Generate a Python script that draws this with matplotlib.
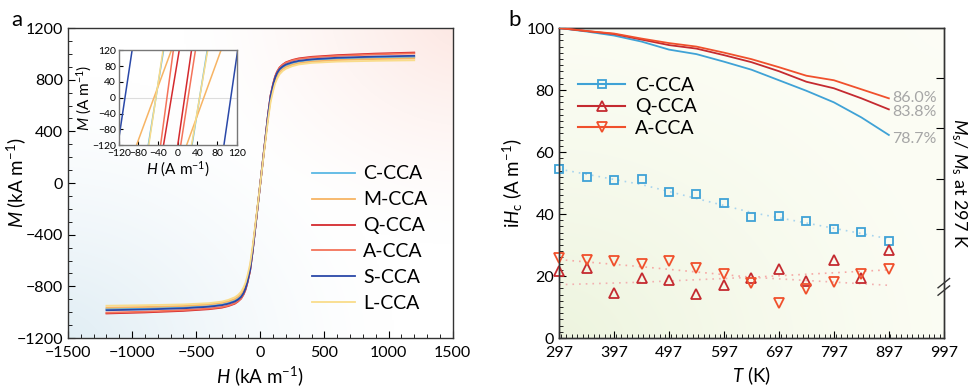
import numpy as np
import matplotlib
matplotlib.use("Agg")
import matplotlib.pyplot as plt
from matplotlib.lines import Line2D
from matplotlib.ticker import MultipleLocator

plt.rcParams['font.family'] = ['Lato', 'DejaVu Sans']
plt.rcParams['mathtext.fontset'] = 'custom'
plt.rcParams['mathtext.rm'] = 'Lato'
plt.rcParams['mathtext.it'] = 'Lato:italic'
plt.rcParams['axes.linewidth'] = 1.0
plt.rcParams['axes.edgecolor'] = '#333333'

# ---- panel a: M-H curves (upper half, mirrored for H < 0) ----
samples = ['C-CCA', 'M-CCA', 'Q-CCA', 'A-CCA', 'S-CCA', 'L-CCA']
colors_a = ['#5ab8e4', '#f7b464', '#d42a2e', '#f4735a', '#2a48a8', '#f9dc8a']
H_kA = [0, 30, 60, 80, 100, 115, 130, 150, 175, 200, 250, 300, 400, 600, 900, 1200]
M_C = [0, 262, 520, 665, 752, 805, 840, 872, 895, 910, 928, 940, 952, 962, 970, 975]
M_M = [0, 255, 505, 648, 735, 788, 824, 858, 882, 898, 916, 928, 940, 952, 960, 965]
M_Q = [0, 265, 530, 680, 770, 825, 862, 895, 918, 935, 953, 965, 977, 990, 1002, 1010]
M_A = [0, 265, 528, 678, 767, 822, 858, 892, 915, 931, 949, 960, 972, 984, 996, 1004]
M_S = [0, 265, 528, 675, 763, 816, 851, 882, 903, 918, 935, 946, 958, 970, 979, 985]
M_L = [0, 248, 490, 628, 715, 770, 806, 842, 868, 885, 905, 918, 930, 940, 946, 950]
M_all = [M_C, M_M, M_Q, M_A, M_S, M_L]

# inset: H (A/m) where each branch hits M = -120 and M = +120
inset_left = {'C-CCA': (-60, -29), 'M-CCA': (-84, -13), 'Q-CCA': (-29, 3),
              'A-CCA': (-35, -9), 'S-CCA': (-122, -93), 'L-CCA': (-59, -30)}
inset_right = {'C-CCA': (29, 60), 'M-CCA': (18, 88), 'Q-CCA': (0, 28),
               'A-CCA': (6, 36), 'S-CCA': (94, 122), 'L-CCA': (28, 61)}

# ---- panel b ----
T = [297, 347, 397, 447, 497, 547, 597, 647, 697, 747, 797, 847, 897]
ratio_C = [100, 99.3, 98.5, 97.3, 95.7, 94.8, 93.3, 91.7, 89.6, 87.5, 85.2, 82.2, 78.7]
ratio_Q = [100, 99.4, 98.8, 97.7, 96.6, 95.9, 94.6, 93.2, 91.4, 89.3, 88.0, 86.0, 83.8]
ratio_A = [100, 99.4, 98.9, 97.9, 97.0, 96.3, 95.1, 93.8, 92.2, 90.5, 89.6, 87.8, 86.0]
iHc_C = [54.5, 52.1, 51.0, 51.4, 47.1, 46.4, 43.4, 39.1, 39.4, 37.9, 35.1, 34.3, 31.3]
iHc_Q = [21.6, 22.6, 14.6, 19.2, 18.7, 14.1, 17.0, 19.2, 22.1, 18.4, 25.1, 19.2, 28.3]
iHc_A = [25.7, 25.3, 24.7, 23.9, 24.8, 22.6, 20.8, 17.9, 11.2, 15.7, 18.2, 20.8, 22.3]
trend_T = [297, 447, 647, 897]
trend_C = [54.5, 49.5, 40.5, 32.0]
trend_A = [25.3, 23.0, 19.6, 22.0]
trend_Q = [17.2, 18.0, 19.6, 17.0]
colors_b = {'C': '#3fa2d6', 'Q': '#c42a30', 'A': '#f0502c'}


def gradient(ax, c0, c1, p1, c2, p2, r1, r2):
    n = 200
    x, y = np.meshgrid(np.linspace(0, 1, n), np.linspace(0, 1, n))
    w1 = np.clip(1 - np.hypot(x - p1[0], y - p1[1]) / r1, 0, 1) ** 1.4
    w2 = np.clip(1 - np.hypot(x - p2[0], y - p2[1]) / r2, 0, 1) ** 1.4
    img = (np.array(c0)[None, None, :] * (1 - w1 - w2)[..., None]
           + np.array(c1)[None, None, :] * w1[..., None]
           + np.array(c2)[None, None, :] * w2[..., None])
    ax.imshow(img, extent=(0, 1, 0, 1), transform=ax.transAxes, origin='lower',
              aspect='auto', zorder=0, interpolation='bilinear')


fig = plt.figure(figsize=(9.74, 3.87), dpi=100)
ax1 = fig.add_axes([0.0698, 0.1266, 0.395, 0.801])
ax2 = fig.add_axes([0.574, 0.1266, 0.395, 0.801])

# ---------- panel a ----------
gradient(ax1, (1, 1, 1), (0.99, 0.90, 0.88), (1.05, 1.05), (0.87, 0.925, 0.955), (-0.05, -0.05), 0.75, 0.9)
H = np.array(H_kA)
for name, col, M in zip(samples, colors_a, M_all):
    M = np.array(M)
    hh = np.concatenate([-H[::-1], H[1:]])
    mm = np.concatenate([-M[::-1], M[1:]])
    ax1.plot(hh, mm, color=col, lw=1.3, label=name, zorder=3)
ax1.set_xlim(-1500, 1500)
ax1.set_ylim(-1200, 1200)
ax1.xaxis.set_major_locator(MultipleLocator(500))
ax1.xaxis.set_minor_locator(MultipleLocator(100))
ax1.yaxis.set_major_locator(MultipleLocator(400))
ax1.yaxis.set_minor_locator(MultipleLocator(100))
ax1.tick_params(which='both', direction='in', labelsize=11.5, top=False, right=False)
ax1.tick_params(which='major', length=5)
ax1.tick_params(which='minor', length=3)
ax1.tick_params(axis='x', pad=6)
ax1.set_xlabel(r'$\mathit{H}$ (kA m$^{-1}$)', fontsize=13.5)
ax1.set_ylabel(r'$\mathit{M}$ (kA m$^{-1}$)', fontsize=13.5)
ax1.xaxis.set_label_coords(0.5, -0.085)
ax1.yaxis.set_label_coords(-0.104, 0.5)
ax1.legend(loc='center left', bbox_to_anchor=(0.59, 0.32), frameon=False, fontsize=14,
           handlelength=2.2, labelspacing=0.46, handletextpad=0.4)

# inset
axi = fig.add_axes([0.122, 0.625, 0.121, 0.245])
axi.set_facecolor((1, 1, 1, 0.6))
axi.axhline(0, color='#dddddd', lw=0.8, zorder=1)
for name, col in zip(samples, colors_a):
    for hb, ht in (inset_left[name], inset_right[name]):
        axi.plot([hb, ht], [-120, 120], color=col, lw=1.1, zorder=2)
axi.set_xlim(-120, 120)
axi.set_ylim(-120, 120)
axi.set_xticks(np.arange(-120, 121, 40))
axi.set_yticks(np.arange(-120, 121, 40))
axi.tick_params(direction='in', labelsize=7.5, length=3, pad=2)
axi.tick_params(axis='x', pad=3)
axi.set_xlabel(r'$\mathit{H}$ (A m$^{-1}$)', fontsize=11, labelpad=1)
axi.set_ylabel(r'$\mathit{M}$ (A m$^{-1}$)', fontsize=11, labelpad=-1)
for s in axi.spines.values():
    s.set_color('#777777')

# ---------- panel b ----------
gradient(ax2, (0.985, 0.99, 0.955), (0.99, 0.99, 0.965), (1.05, 1.05), (0.925, 0.955, 0.865), (-0.05, -0.05), 0.5, 1.1)
ax2.plot(trend_T, trend_C, color='#a8d4ee', lw=1.2, ls=(0, (1, 3)), zorder=2)
ax2.plot(trend_T, trend_A, color='#f6a8a4', lw=1.2, ls=(0, (1, 3)), zorder=2)
ax2.plot(trend_T, trend_Q, color='#f2b0b0', lw=1.2, ls=(0, (1, 3)), zorder=2)
ax2.plot(T, iHc_C, ls='none', marker='s', ms=6, mfc='none', mec=colors_b['C'], mew=1.3, zorder=4, clip_on=False)
ax2.plot(T, iHc_Q, ls='none', marker='^', ms=7, mfc='none', mec=colors_b['Q'], mew=1.3, zorder=4, clip_on=False)
ax2.plot(T, iHc_A, ls='none', marker='v', ms=7, mfc='none', mec=colors_b['A'], mew=1.3, zorder=4, clip_on=False)
ax2.set_xlim(297, 997)
ax2.set_ylim(0, 100)
ax2.set_xticks(np.arange(297, 998, 100))
ax2.xaxis.set_minor_locator(MultipleLocator(10))
ax2.yaxis.set_major_locator(MultipleLocator(20))
ax2.yaxis.set_minor_locator(MultipleLocator(2))
ax2.tick_params(which='both', direction='in', labelsize=11.5, top=False, right=False)
ax2.tick_params(which='major', length=5)
ax2.tick_params(which='minor', length=3)
ax2.tick_params(axis='x', pad=6)
ax2.set_xlabel(r'$\mathit{T}$ (K)', fontsize=13.5)
ax2.set_ylabel(r'i$\mathit{H}_{\mathrm{c}}$ (A m$^{-1}$)', fontsize=13.5)
ax2.xaxis.set_label_coords(0.5, -0.085)
ax2.yaxis.set_label_coords(-0.088, 0.5)

ax3 = ax2.twinx()
ax3.set_ylim(100 - 100 / 1.62, 100)
ax3.plot(T, ratio_C, color=colors_b['C'], lw=1.3, zorder=3)
ax3.plot(T, ratio_Q, color=colors_b['Q'], lw=1.3, zorder=3)
ax3.plot(T, ratio_A, color=colors_b['A'], lw=1.3, zorder=3)
ax3.set_yticks([60, 70, 80, 90])
ax3.set_yticklabels([])
ax3.tick_params(direction='in', length=6, right=True)
ax3.set_ylabel(r'$M_{\mathrm{s}}$/ $M_{\mathrm{s}}$ at 297 K', fontsize=13, rotation=270)
ax3.yaxis.set_label_coords(1.066, 0.5)
for val, dy in ((ratio_A[-1], 0), (ratio_Q[-1], -0.6), (ratio_C[-1], -0.8)):
    ax3.text(903, val + dy, f'{val:.1f}%', color='#a6a6a6', fontsize=11.5, va='center', ha='left')
# axis break marks on right spine
for dy in (-0.012, 0.012):
    ax3.plot([0.985, 1.015], [0.165 + dy - 0.015, 0.165 + dy + 0.015], transform=ax3.transAxes,
             color='#333333', lw=1.0, clip_on=False, zorder=6)

handles = [Line2D([], [], color=colors_b['C'], marker='s', mfc='none', ms=6, mew=1.3, lw=1.5),
           Line2D([], [], color=colors_b['Q'], marker='^', mfc='none', ms=7, mew=1.3, lw=1.5),
           Line2D([], [], color=colors_b['A'], marker='v', mfc='none', ms=7, mew=1.3, lw=1.5)]
ax3.legend(handles, ['C-CCA', 'Q-CCA', 'A-CCA'], loc='upper left', bbox_to_anchor=(0.005, 0.9),
           frameon=False, fontsize=14, handlelength=2.4, labelspacing=0.25, handletextpad=0.5,
           numpoints=1)

fig.text(0.012, 0.948, 'a', fontsize=16, va='center')
fig.text(0.522, 0.948, 'b', fontsize=16, va='center')

fig.savefig('out.png', dpi=100)
